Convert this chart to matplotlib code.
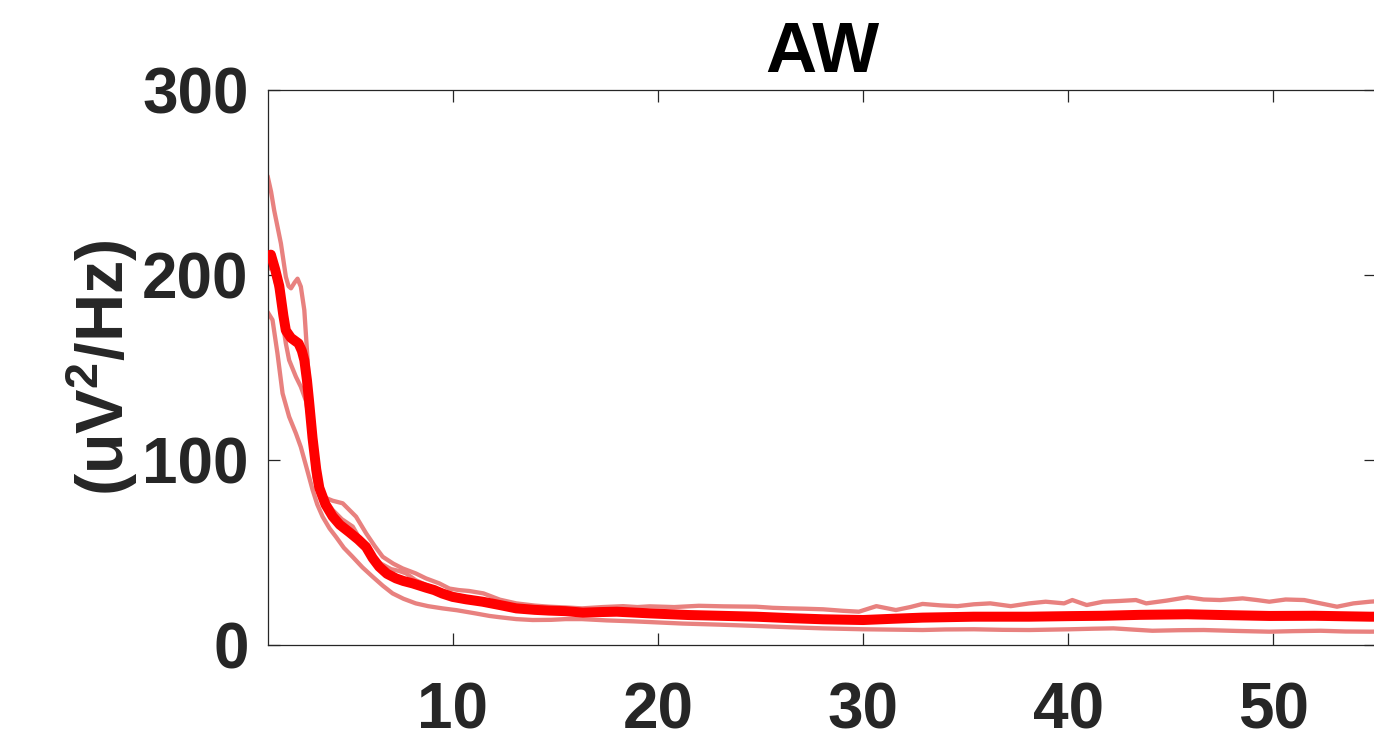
import matplotlib
matplotlib.use("Agg")
import matplotlib.pyplot as plt

# ---------------- data ----------------
mean_freq = [0.95, 1.14, 1.35, 1.55, 1.75, 1.87, 2.12, 2.49, 2.65, 2.77, 2.9, 3.0, 3.17,
             3.35, 3.5, 3.8, 4.15, 4.5, 4.96, 5.4, 5.78, 6.1, 6.42, 6.8, 7.24, 7.6, 8.05,
             8.7, 9.1, 9.5, 10.0, 10.65, 11.46, 12.3, 13.1, 14.0, 14.7, 15.5, 16.35, 17.2,
             18.0, 19.6, 21.5, 23.0, 24.8, 26.5, 28.05, 30.0, 31.5, 32.9, 35.4, 38.1, 40.0,
             41.7, 43.5, 45.8, 47.5, 49.8, 52.0, 54.7, 55.5]
mean_psd = [210, 211, 203, 194, 178, 170, 166, 163, 159, 154, 143, 132, 112,
            95, 85, 76, 69.5, 65, 61, 57, 53, 47, 42.3, 38.5, 36, 34.6, 33.3,
            31, 29.7, 27.8, 26, 24.7, 23.4, 21.6, 19.8, 19.0, 18.6, 18.3, 17.5, 17.8,
            18, 17.1, 16.2, 15.8, 15.3, 14.5, 13.9, 13.5, 14.2, 14.8, 15.3, 15.3, 15.6,
            15.8, 16.3, 16.6, 16.2, 15.7, 15.8, 15.3, 15.3]

upper_freq = [0.98, 1.15, 1.3, 1.63, 1.87, 2.0, 2.12, 2.3, 2.44, 2.6, 2.77, 2.93, 3.09,
              3.25, 3.4, 3.7, 4.15, 4.64, 5.29, 5.78, 6.2, 6.59, 7.1, 7.56, 8.2,
              8.7, 9.35, 9.84, 10.3, 10.8, 11.5, 12.3, 13.1, 14.0, 14.7, 15.5, 16.3, 17.3,
              18.3, 19.0, 19.6, 20.8, 22.0, 23.2, 24.8, 25.6, 26.4, 27.2, 28.05, 29.0,
              29.8, 30.65, 31.6, 32.3, 32.9, 33.8, 34.6, 35.4, 36.2, 37.2, 38.1, 38.9,
              39.8, 40.2, 40.9, 41.7, 42.5, 43.3, 43.8, 44.8, 45.8, 46.6, 47.4, 48.5,
              49.2, 49.8, 50.6, 51.5, 52.3, 53.1, 53.9, 54.7, 55.5]
upper_psd = [253.5, 245, 235, 217, 199, 194, 192.8, 196, 198, 193.7, 181, 154, 118,
             91, 84, 80, 78, 76.6, 69.4, 60.4, 53.5, 47.7, 44, 41.4, 38.7,
             36, 33.3, 30.5, 29.7, 29.2, 27.9, 24.5, 22.5, 21.3, 20.7, 20.3, 19.8, 20.5,
             21, 20.5, 20.9, 20.5, 21.2, 20.9, 20.7, 20.1, 19.8, 19.6, 19.3, 18.5,
             18, 21, 18.9, 20.5, 22.2, 21.4, 21, 22, 22.5, 21, 22.5, 23.4,
             22.5, 24.3, 21.6, 23.4, 23.8, 24.3, 22.5, 24.0, 25.8, 24.6, 24.3, 25.2,
             24.3, 23.4, 24.6, 24.3, 22.5, 20.7, 22.5, 23.4, 24]

middle_freq = [0.98, 1.2, 1.5, 1.87, 2.03, 2.36, 2.6, 2.85, 3.1, 3.4, 3.7, 4.15, 4.6,
               5.13, 5.6, 6.0, 6.5, 7.0, 7.4, 7.73, 8.2, 8.7, 9.3, 10.0, 11.0, 12.0,
               13.0, 14.0, 16.0, 18.0, 20.0, 22.0, 25.0, 28.0, 30.0, 33.0, 36.0, 40.0,
               44.0, 48.0, 52.0, 55.5]
middle_psd = [203, 205, 190, 163, 154, 145, 139.6, 132, 115, 93, 80, 73, 68,
              64, 55, 48, 44, 41, 40, 38.7, 35, 32.5, 30, 27.5, 25, 22.5,
              21, 19.5, 18, 18.5, 17.5, 16.5, 15.3, 14, 14, 15, 15.5, 16,
              16.5, 16, 15.5, 15.5]

lower_freq = [0.98, 1.22, 1.46, 1.71, 2.03, 2.36, 2.6, 2.85, 3.17, 3.4, 3.66, 4.0, 4.31,
              4.7, 5.12, 5.6, 6.1, 6.6, 7.07, 7.6, 8.2, 8.8, 9.5, 10.2, 11.1, 11.8,
              12.3, 13.1, 13.9, 14.8, 15.5, 16.3, 17.5, 18.8, 20.0, 21.2, 23.0, 24.8,
              26.4, 28.05, 30.0, 31.5, 32.9, 34.0, 35.4, 36.8, 38.1, 40.1, 41.2, 42.2,
              43.2, 44.1, 45.4, 46.6, 48.2, 49.8, 51.0, 52.3, 53.5, 54.7, 55.5]
lower_psd = [180, 175.7, 157.7, 136, 123.4, 114.4, 107, 97, 84, 76, 69.4, 63, 58.5,
             52.5, 47.7, 42, 36.9, 32, 27.9, 25, 22.5, 21, 19.8, 18.8, 17.1, 15.7,
             15.0, 14.0, 13.5, 13.6, 14.0, 14.0, 13.3, 12.8, 12.2, 11.6, 11.0, 10.3,
             9.6, 9, 8.5, 8.3, 8.1, 8.4, 8.5, 8.2, 8.1, 8.5, 8.8, 9,
             8.3, 7.7, 8.0, 8.1, 7.6, 7.2, 7.5, 7.7, 7.3, 7.2, 7.3]

x_ticks = [10, 20, 30, 40, 50]
y_ticks = [0, 100, 200, 300]
title_text = "AW"
ylabel_text = r"(uV$^{2}$/Hz)"

# ---------------- style ----------------
plt.rcParams['font.family'] = ['Liberation Sans', 'DejaVu Sans']
plt.rcParams['font.weight'] = 'bold'
plt.rcParams['mathtext.fontset'] = 'custom'
plt.rcParams['mathtext.rm'] = 'Liberation Sans:bold'
plt.rcParams['mathtext.bf'] = 'Liberation Sans:bold'
plt.rcParams['mathtext.it'] = 'Liberation Sans:bold'
plt.rcParams['mathtext.default'] = 'rm'

W, H = 1374, 751
fig = plt.figure(figsize=(W / 100, H / 100), dpi=100)
fig.patch.set_facecolor('white')

ax_l, ax_r, ax_t, ax_b = 268, 1376, 90, 645
ax = fig.add_axes([ax_l / W, 1 - ax_b / H, (ax_r - ax_l) / W, (ax_b - ax_t) / H])

light = '#E8817F'
for f, p in [(upper_freq, upper_psd), (middle_freq, middle_psd), (lower_freq, lower_psd)]:
    ax.plot(f, p, color=light, lw=3.1, solid_joinstyle='round', solid_capstyle='round', zorder=2)
ax.plot(mean_freq, mean_psd, color='#FF0000', lw=7.2, solid_joinstyle='round',
        solid_capstyle='round', zorder=3)

ax.set_xlim(1, 55)
ax.set_ylim(0, 300)
ax.set_xticks(x_ticks)
ax.set_yticks(y_ticks)

axis_col = '#262626'
for s in ax.spines.values():
    s.set_color(axis_col)
    s.set_linewidth(0.9)

ax.tick_params(axis='both', which='major', direction='in', top=True, right=True,
               length=8.5, width=0.9, color=axis_col, labelcolor=axis_col,
               labelsize=46)
ax.tick_params(axis='x', pad=26)
ax.tick_params(axis='y', pad=14)
for lab in ax.get_xticklabels() + ax.get_yticklabels():
    lab.set_fontweight('bold')

ax.set_title(title_text, fontsize=51, fontweight='bold', color='black', pad=13)

fig.text(102 / W, 1 - 368 / H, ylabel_text, rotation=90, ha='center', va='center',
         fontsize=48, fontweight='bold', color=axis_col)

fig.savefig('out.png', dpi=100, facecolor='white')
